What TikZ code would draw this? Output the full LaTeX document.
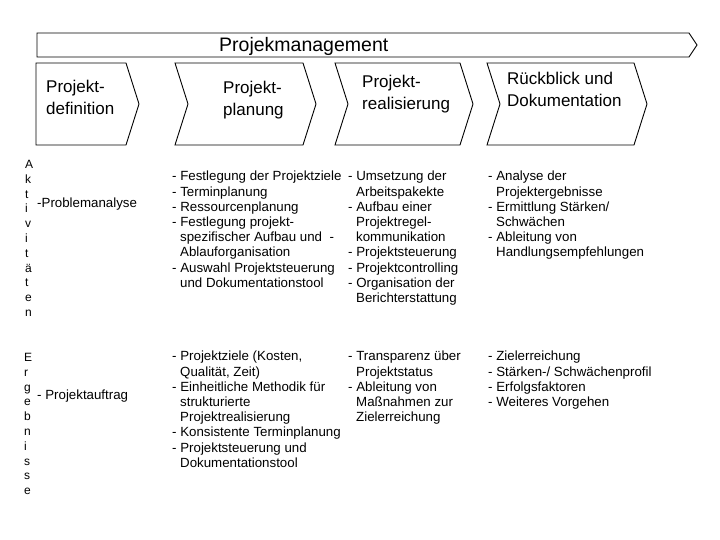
\documentclass[tikz,border=0pt]{standalone}
\usepackage{fontspec}
\setmainfont{Liberation Sans}
\newcommand{\ind}{\hspace*{8pt}}

\begin{document}
\begin{tikzpicture}[x=1pt,y=-1pt,
  frame/.style={draw=black,line width=0.9pt,line join=miter},
  phase/.style={font=\fontsize{17}{22}\selectfont,align=left,anchor=north west,inner sep=0pt},
  items/.style={font=\fontsize{13.3}{15.2}\selectfont,align=left,anchor=north west,inner sep=0pt},
  letters/.style={font=\fontsize{12}{14.8}\selectfont,align=left,anchor=north west,inner sep=0pt}]

\useasboundingbox (0,0) rectangle (720,540);

% banner
\draw[frame] (37,33) -- (689,33) -- (697,45) -- (689,57) -- (37,57) -- cycle;
\node[anchor=base west,inner sep=0pt,font=\fontsize{19.5}{23}\selectfont] (title) at (219,52) {Projekmanagement};

% phases
\draw[frame] (36,63) -- (126,63) -- (139,104) -- (126,145) -- (36,145) -- cycle;
\foreach \l/\r in {175/303,335/460,487/634}
  \draw[frame] (\l,63) -- (\r,63) -- (\r+13,104) -- (\r,145) -- (\l,145) -- (\l+13,104) -- cycle;

\node[phase] (def)    at (46,80)  {Projekt-\\definition};
\node[phase] (plan)   at (223,81) {Projekt-\\planung};
\node[phase] (real)   at (362,75) {Projekt-\\realisierung};
\node[phase] (review) at (507,72) {R\"uckblick und\\Dokumentation};

% row labels
\node[letters] (akt) at (25,160) {A\\k\\t\\i\\v\\i\\t\\\"a\\t\\e\\n};
\node[letters] (erg) at (24,353) {E\\r\\g\\e\\b\\n\\i\\s\\s\\e};

% Aktivitaeten
\node[items] (akt-def)  at (37,198) {-Problemanalyse};
\node[items] (akt-plan) at (172,171) {- Festlegung der Projektziele\\
  - Terminplanung\\
  - Ressourcenplanung\\
  - Festlegung projekt-\\
  \ind spezifischer Aufbau und\ \ -\\
  \ind Ablauforganisation\\
  - Auswahl Projektsteuerung\\
  \ind und Dokumentationstool};
\node[items] (akt-real) at (348,171) {- Umsetzung der\\
  \ind Arbeitspakekte\\
  - Aufbau einer\\
  \ind Projektregel-\\
  \ind kommunikation\\
  - Projektsteuerung\\
  - Projektcontrolling\\
  - Organisation der\\
  \ind Berichterstattung};
\node[items] (akt-review) at (488,171) {- Analyse der\\
  \ind Projektergebnisse\\
  - Ermittlung St\"arken/\\
  \ind Schw\"achen\\
  - Ableitung von\\
  \ind Handlungsempfehlungen};

% Ergebnisse
\node[items] (erg-def)  at (37,390) {- Projektauftrag};
\node[items] (erg-plan) at (172,351) {- Projektziele (Kosten,\\
  \ind Qualit\"at, Zeit)\\
  - Einheitliche Methodik f\"ur\\
  \ind strukturierte\\
  \ind Projektrealisierung\\
  - Konsistente Terminplanung\\
  - Projektsteuerung und\\
  \ind Dokumentationstool};
\node[items] (erg-real) at (348,351) {- Transparenz \"uber\\
  \ind Projektstatus\\
  - Ableitung von\\
  \ind Ma\ss nahmen zur\\
  \ind Zielerreichung};
\node[items] (erg-review) at (488,351) {- Zielerreichung\\
  - St\"arken-/ Schw\"achenprofil\\
  - Erfolgsfaktoren\\
  - Weiteres Vorgehen};

\end{tikzpicture}
\end{document}
